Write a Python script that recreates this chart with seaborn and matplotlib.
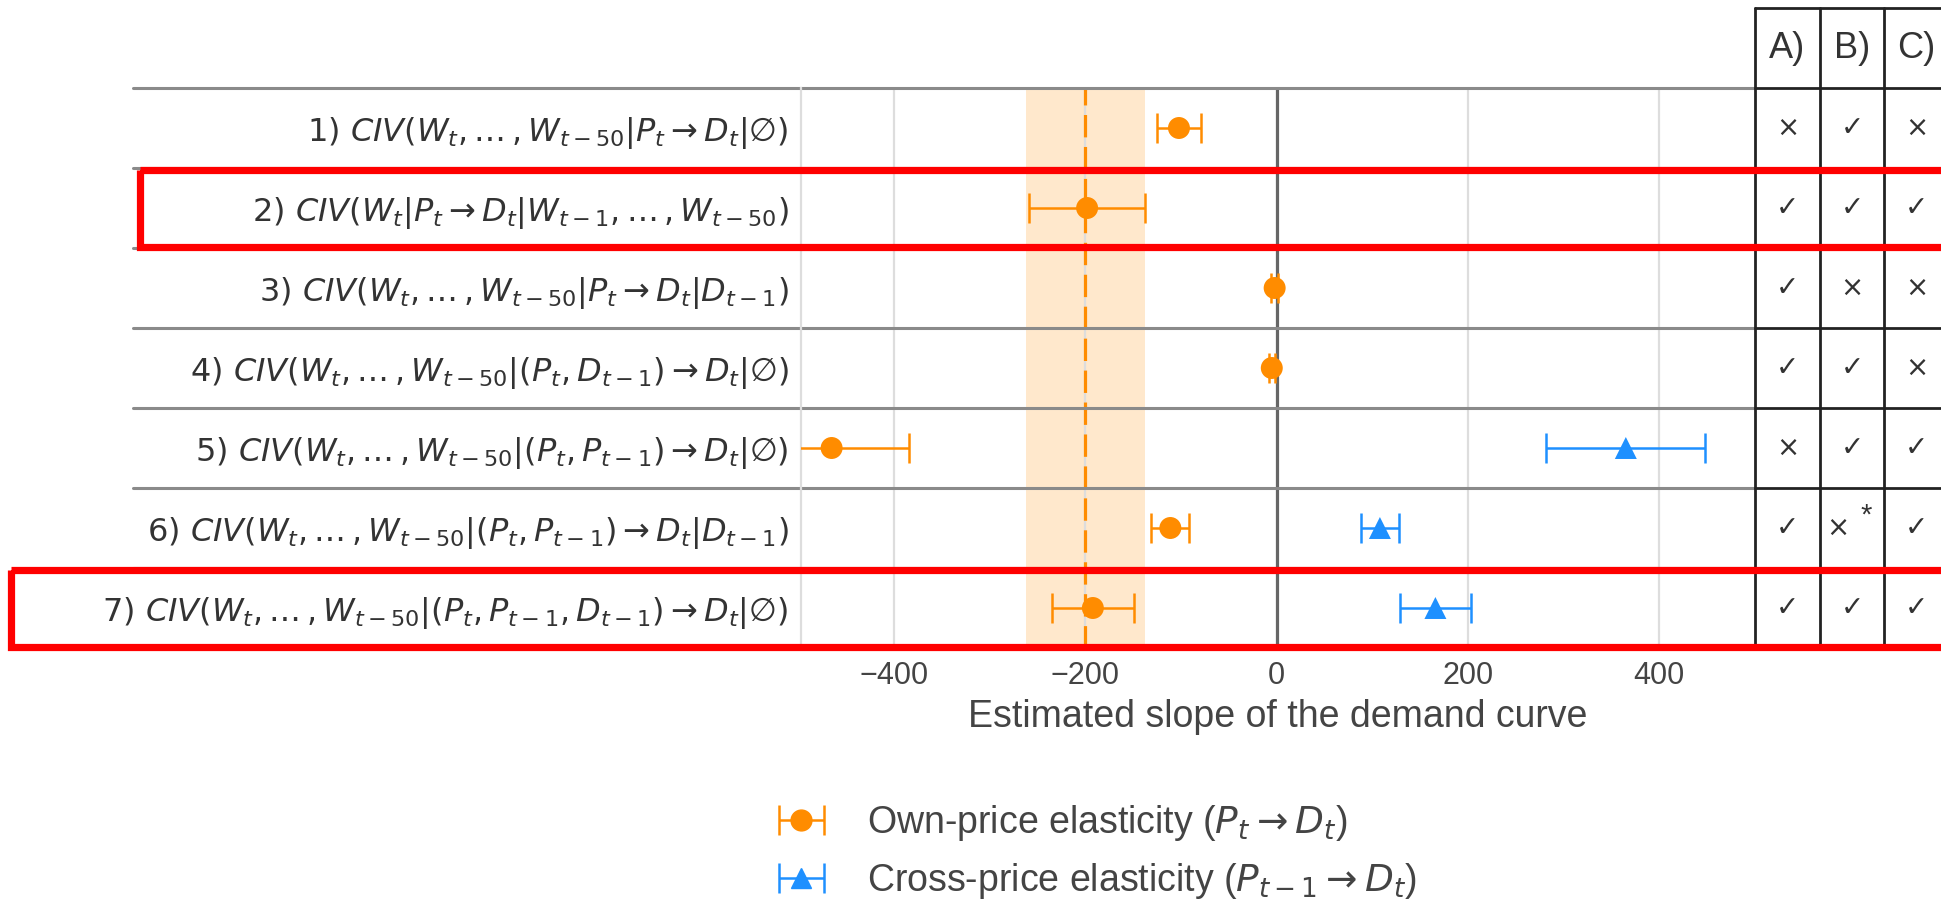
import numpy as np
import pandas as pd
import matplotlib
matplotlib.use("Agg")
import matplotlib.pyplot as plt
import matplotlib.transforms as mtransforms
from matplotlib.patches import Rectangle
from matplotlib.lines import Line2D
from matplotlib.container import ErrorbarContainer
from matplotlib.legend_handler import HandlerErrorbar
import seaborn as sns

# ---------------- data ----------------
DOTS = r",\ldots\,,"
row_labels = [
    r"1) $CIV(W_t" + DOTS + r"W_{t-50}|P_t \rightarrow D_t|\varnothing)$",
    r"2) $CIV(W_t|P_t \rightarrow D_t|W_{t-1}" + DOTS + r"W_{t-50})$",
    r"3) $CIV(W_t" + DOTS + r"W_{t-50}|P_t \rightarrow D_t|D_{t-1})$",
    r"4) $CIV(W_t" + DOTS + r"W_{t-50}|(P_t, D_{t-1}) \rightarrow D_t|\varnothing)$",
    r"5) $CIV(W_t" + DOTS + r"W_{t-50}|(P_t, P_{t-1}) \rightarrow D_t|\varnothing)$",
    r"6) $CIV(W_t" + DOTS + r"W_{t-50}|(P_t, P_{t-1}) \rightarrow D_t|D_{t-1})$",
    r"7) $CIV(W_t" + DOTS + r"W_{t-50}|(P_t, P_{t-1}, D_{t-1}) \rightarrow D_t|\varnothing)$",
]
own_rows = [0, 1, 2, 3, 4, 5, 6]
own_est = [-102, -198, -2, -5, -465, -111, -192]
own_err = [23, 61, 4, 3, 81, 20, 43]
cross_rows = [4, 5, 6]
cross_est = [365, 108, 166]
cross_err = [83, 20, 37]
ref_value = -200
ref_band = [-262, -138]
x_ticks = [-400, -200, 0, 200, 400]
x_label = "Estimated slope of the demand curve"
legend_labels = [r"Own-price elasticity ($P_t \rightarrow D_t$)",
                 r"Cross-price elasticity ($P_{t-1} \rightarrow D_t$)"]
table_header = ["A)", "B)", "C)"]
table_marks = [
    ["×", "✓", "×"],
    ["✓", "✓", "✓"],
    ["✓", "×", "×"],
    ["✓", "✓", "×"],
    ["×", "✓", "✓"],
    ["✓", "×*", "✓"],
    ["✓", "✓", "✓"],
]
highlight_rows = [1, 6]

# ---------------- style ----------------
sns.set_style("white")
plt.rcParams["font.family"] = ["Liberation Sans", "DejaVu Sans"]
plt.rcParams["mathtext.fontset"] = "dejavusans"

ORANGE = "#ff8c00"
BLUE = "#1e90ff"
TXT = "#444444"

W, H = 1941, 900
fig = plt.figure(figsize=(W / 100, H / 100), dpi=100)
ax = fig.add_axes([801 / W, (H - 648) / H, 954 / W, 560 / H])
tab = fig.add_axes([1755 / W, (H - 648) / H, 194 / W, 640 / H])

df = pd.DataFrame({
    "est": own_est + cross_est,
    "row": own_rows + cross_rows,
    "kind": ["own"] * len(own_est) + ["cross"] * len(cross_est),
})

# reference band + line
ax.axvspan(ref_band[0], ref_band[1], color=ORANGE, alpha=0.2, lw=0, zorder=0)
ax.axvline(ref_value, color=ORANGE, lw=2.3, ls=(0, (7, 3)), zorder=1)
ax.axvline(0, color="#666666", lw=2.3, zorder=1)

eb_own = ax.errorbar(own_est, own_rows, xerr=own_err, fmt="none", ecolor=ORANGE,
                     elinewidth=1.8, capsize=11, capthick=1.8, zorder=3)
eb_cross = ax.errorbar(cross_est, cross_rows, xerr=cross_err, fmt="none", ecolor=BLUE,
                       elinewidth=1.8, capsize=11, capthick=1.8, zorder=3)
sns.scatterplot(data=df, x="est", y="row", hue="kind", style="kind",
                palette={"own": ORANGE, "cross": BLUE},
                markers={"own": "o", "cross": "^"}, s=250, linewidth=0,
                legend=False, ax=ax, zorder=4)

n = len(row_labels)
ax.set_xlim(-497, 500)
ax.set_ylim(n - 0.5, -0.5)
ax.set_xticks(x_ticks)
ax.set_xticklabels([str(v).replace("-", "\u2212") for v in x_ticks])
ax.set_yticks(range(n))
ax.set_yticklabels(row_labels, fontsize=23, color="#333333", family="DejaVu Sans")
ax.tick_params(axis="x", length=0, pad=9, labelsize=22, labelcolor=TXT)
ax.tick_params(axis="y", length=0, pad=9)
ax.set_xlabel(x_label, fontsize=27, color=TXT, labelpad=6)
ax.set_ylabel("")
ax.grid(axis="x", color="#dddddd", lw=1.6, zorder=0)
ax.grid(axis="y", visible=False)
for s in ["top", "right", "bottom"]:
    ax.spines[s].set_visible(False)
ax.spines["left"].set_color("#dddddd")
ax.spines["left"].set_linewidth(1.6)

# row separators, extended into the label area
ytr = ax.get_yaxis_transform()
for k in range(n + 1):
    ax.plot([-0.70, 1.0], [k - 0.5, k - 0.5], transform=ytr, color="#8a8a8a",
            lw=2.2, clip_on=False, zorder=2)

# table on the right
tab.set_xlim(0, 3)
tab.set_ylim(n - 0.5, -1.5)
tab.axis("off")
for k in range(n + 2):
    tab.plot([0, 3], [k - 1.5, k - 1.5], color="#222222", lw=2.0, clip_on=False)
for j in range(4):
    tab.plot([j, j], [-1.5, n - 0.5], color="#222222", lw=2.0, clip_on=False)
for j, h in enumerate(table_header):
    tab.text(j + 0.5, -1.0, h, ha="center", va="center", fontsize=26, color="#333333")
for i, row in enumerate(table_marks):
    for j, m in enumerate(row):
        if m.endswith("*"):
            tab.text(j + 0.28, i, m[0], ha="center", va="center", fontsize=20,
                     color="#333333", family="DejaVu Sans")
            tab.text(j + 0.72, i - 0.16, "*", ha="center", va="center", fontsize=21,
                     color="#333333")
        else:
            tab.text(j + 0.5, i, m, ha="center", va="center", fontsize=20,
                     color="#333333", family="DejaVu Sans")

# highlight boxes
btr = mtransforms.blended_transform_factory(fig.transFigure, ax.transData)
box_left = {1: 140 / W, 6: 11 / W}
for r in highlight_rows:
    x0 = box_left[r]
    fig.add_artist(Rectangle((x0, r - 0.475), 1.02 - x0, 0.96, transform=btr,
                             fill=False, ec="#ff0000", lw=5.2, zorder=10))

# legend
h_own = (eb_own, Line2D([], [], marker="o", ls="none", color=ORANGE, markersize=15))
h_cross = (eb_cross, Line2D([], [], marker="^", ls="none", color=BLUE, markersize=15))
fig.legend([h_own, h_cross], legend_labels, loc="center left",
           bbox_to_anchor=(760 / W, 1 - 852 / H), frameon=False, fontsize=27,
           handlelength=1.2, handletextpad=1.15, labelspacing=0.5, borderpad=0,
           labelcolor=TXT,
           handler_map={ErrorbarContainer: HandlerErrorbar(xerr_size=0.6)})

fig.savefig("out.png", dpi=100)
